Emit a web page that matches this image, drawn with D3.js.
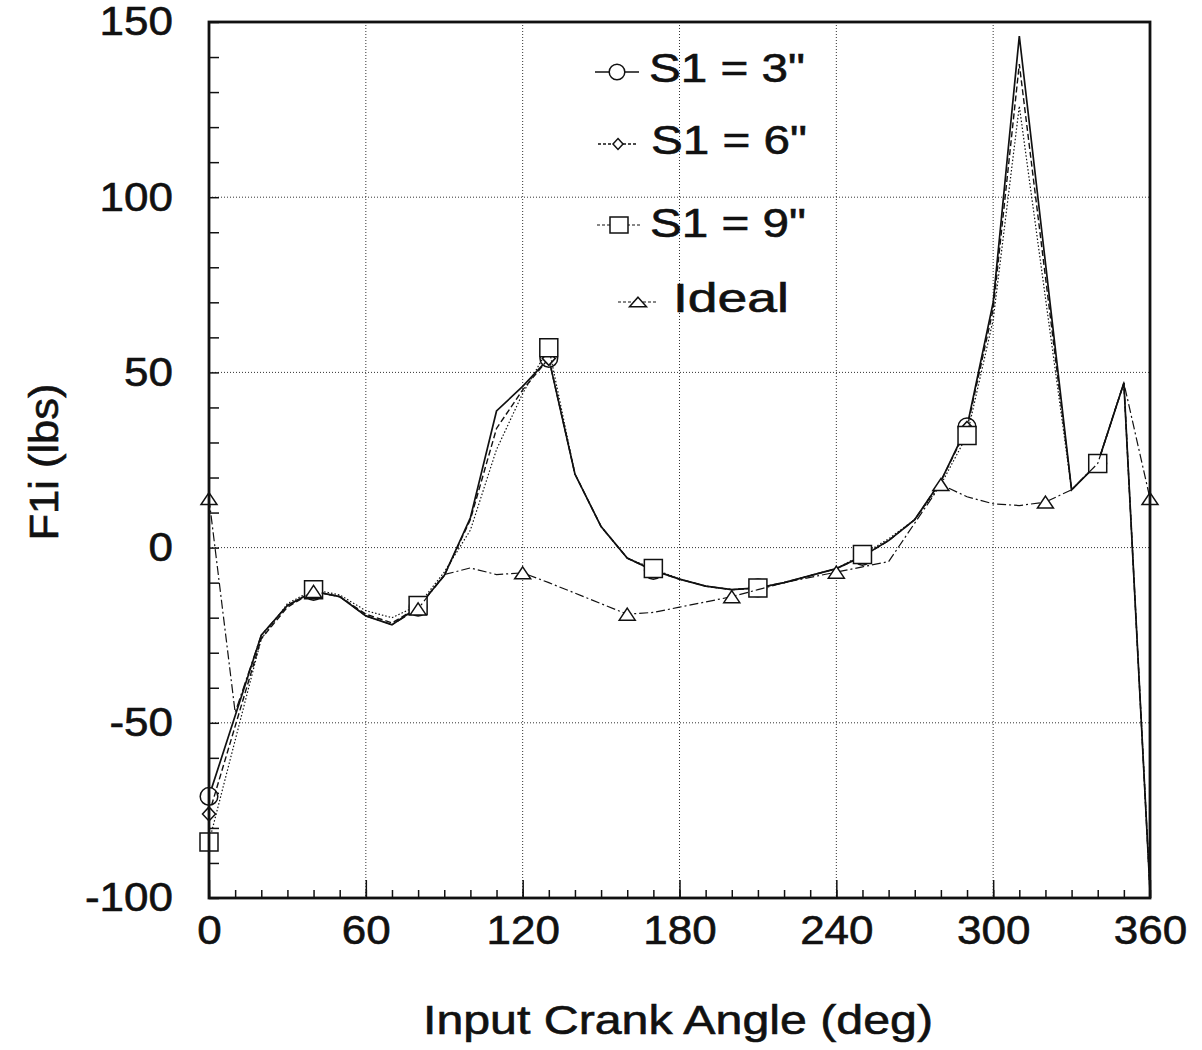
<!DOCTYPE html>
<html>
<head>
<meta charset="utf-8">
<script src="https://cdn.jsdelivr.net/npm/d3@7"></script>
<style>
  body { margin: 0; background: #fff; }
  text { font-family: "Liberation Sans", Arial, Helvetica, sans-serif; fill: #111; stroke: #111; stroke-width: 0.6px; }
</style>
</head>
<body>
<div id="chart"></div>
<script>
// Our canvas
const width = 1202, height = 1050
const plotLeft = 209, plotRight = 1150, plotTop = 22, plotBottom = 898

// Data
const sAngles = [0, 20, 30, 40, 50, 60, 70, 80, 90, 100, 110, 120, 130, 140, 150, 160, 170, 180, 190, 200,
  210, 220, 230, 240, 250, 260, 270, 280, 290, 300, 310, 330, 340, 350, 360]
const s3Values = [-71, -25, -16.5, -12.5, -14, -19.5, -22, -17, -8, 8.5, 39, 46, 54, 21, 6, -3, -6.5, -9, -11, -12,
  -11.5, -10, -8, -6, -2.5, 2, 8, 19, 34.5, 70, 146, 16.5, 24, 47, -98]
const s6Values = [-76, -26, -17, -12.5, -14, -19, -21.5, -17, -8, 8, 34, 45, 54, 21, 6, -3, -6.5, -9, -11, -12,
  -11.5, -10, -8, -6, -2.5, 2, 8, 19, 34, 68, 138, 16.5, 24, 47, -98]
const s9Values = [-84, -26, -16, -12, -13.5, -18, -20, -16.5, -7, 5, 28, 44, 57, 21, 6, -3, -6, -9, -11, -12,
  -11.5, -10, -8, -6, -2, 2.5, 8, 18, 32, 65, 126, 16.5, 24, 47, -98]
const idealAngles = [0, 10, 20, 30, 40, 50, 60, 70, 80, 90, 100, 110, 120, 130, 140, 150, 160, 170, 180, 190,
  200, 210, 220, 230, 240, 250, 260, 270, 280, 290, 300, 310, 320, 330, 340, 350, 360]
const idealValues = [14, -47, -25, -16.5, -12.5, -14, -19.5, -22, -17.5, -7.7, -5.8, -7.7, -7.2, -10, -13, -16, -19, -18.5, -17, -15.5,
  -14, -12, -10, -8.5, -7, -5.5, -4, 7, 18, 14.5, 12.5, 12, 13, 16.5, 24, 47, 14]
const sMarkerAngles = [0, 40, 80, 130, 170, 210, 250, 290, 340]
const idealMarkerAngles = [0, 40, 80, 120, 160, 200, 240, 280, 320, 360]
const seriesNames = ['S1 = 3"', 'S1 = 6"', 'S1 = 9"', 'Ideal']
const xTicks = [0, 60, 120, 180, 240, 300, 360]
const yTicks = [-100, -50, 0, 50, 100, 150]

// series table
const series = [
  { name: seriesNames[0], angles: sAngles, values: s3Values, marks: sMarkerAngles, shape: 'circle', dash: null, lw: 1.7 },
  { name: seriesNames[1], angles: sAngles, values: s6Values, marks: sMarkerAngles, shape: 'diamond', dash: '6,3', lw: 1.4 },
  { name: seriesNames[2], angles: sAngles, values: s9Values, marks: sMarkerAngles, shape: 'square', dash: '1.5,2', lw: 1.2 },
  { name: seriesNames[3], angles: idealAngles, values: idealValues, marks: idealMarkerAngles, shape: 'triangle', dash: '9,3,2,3', lw: 1.2 }
]

const x = d3.scaleLinear().domain([0, 360]).range([plotLeft, plotRight])
const y = d3.scaleLinear().domain([-100, 150]).range([plotBottom, plotTop])

let svg = d3.select('#chart')
  .append('svg')
  .attr('width', width)
  .attr('height', height)
  .style('background-color', '#fff')

// marker paths
let shapePath = (shape, w, h) => {
  if (shape === 'circle') return `M${-w},0a${w},${w} 0 1,0 ${2 * w},0a${w},${w} 0 1,0 ${-2 * w},0`
  if (shape === 'diamond') return `M0,${-h}L${w},0L0,${h}L${-w},0Z`
  if (shape === 'square') return `M${-w},${-h}H${w}V${h}H${-w}Z`
  return `M0,${-h}L${w},${h}L${-w},${h}Z`
}
const markSize = { circle: [8.8, 8.8], diamond: [6.5, 7], square: [9, 9], triangle: [8, 6] }
const legendSize = { circle: [7.8, 7.8], diamond: [5, 5.5], square: [9, 8], triangle: [8.5, 4.8] }

// stretch text horizontally a bit, the original lettering is wide
let stretch = (sel, k) => sel.each(function () {
  const l = this.getComputedTextLength()
  if (l > 0) d3.select(this).attr('textLength', l * k).attr('lengthAdjust', 'spacingAndGlyphs')
})

// gridlines
svg.append('g')
  .selectAll('line')
  .data(xTicks.filter(d => d > 0 && d < 360))
  .enter().append('line')
  .attr('x1', d => x(d)).attr('x2', d => x(d))
  .attr('y1', plotTop).attr('y2', plotBottom)
  .attr('stroke', '#333').attr('stroke-width', 1).attr('stroke-dasharray', '1,2')
svg.append('g')
  .selectAll('line')
  .data(yTicks.filter(d => d > -100 && d < 150))
  .enter().append('line')
  .attr('x1', plotLeft).attr('x2', plotRight)
  .attr('y1', d => y(d)).attr('y2', d => y(d))
  .attr('stroke', '#333').attr('stroke-width', 1).attr('stroke-dasharray', '1,2')

// axes
let yAxis = svg.append('g')
  .attr('transform', `translate(${plotLeft},0)`)
  .call(d3.axisLeft(y).tickValues(d3.range(-100, 151, 10))
    .tickFormat(d => yTicks.includes(d) ? d : '')
    .tickSizeInner(-10).tickSizeOuter(0).tickPadding(36))
yAxis.select('.domain').remove()
yAxis.selectAll('line').attr('stroke', '#111').attr('stroke-width', 1.5)
yAxis.selectAll('text').style('font-size', '40px').attr('fill', '#111')
stretch(yAxis.selectAll('text'), 1.1)

let xMinor = svg.append('g')
  .attr('transform', `translate(0,${plotBottom})`)
  .call(d3.axisBottom(x).tickValues(d3.range(0, 361, 10)).tickFormat('')
    .tickSizeInner(-8).tickSizeOuter(0))
xMinor.select('.domain').remove()
xMinor.selectAll('line').attr('stroke', '#111').attr('stroke-width', 1.5)

let xAxis = svg.append('g')
  .attr('transform', `translate(0,${plotBottom})`)
  .call(d3.axisBottom(x).tickValues(xTicks)
    .tickSizeInner(-18).tickSizeOuter(0).tickPadding(18))
xAxis.select('.domain').remove()
xAxis.selectAll('line').attr('stroke', '#111').attr('stroke-width', 1.5)
xAxis.selectAll('text').style('font-size', '40px').attr('fill', '#111')
stretch(xAxis.selectAll('text'), 1.1)

// series lines and markers
const line = d3.line().x(d => x(d[0])).y(d => y(d[1]))
series.forEach(s => {
  const pts = s.angles.map((a, i) => [a, s.values[i]])
  svg.append('path')
    .attr('d', line(pts))
    .attr('fill', 'none')
    .attr('stroke', '#111')
    .attr('stroke-width', s.lw)
    .attr('stroke-dasharray', s.dash)
  const [w, h] = markSize[s.shape]
  svg.append('g')
    .selectAll('path')
    .data(pts.filter(p => s.marks.includes(p[0])))
    .enter().append('path')
    .attr('transform', d => `translate(${x(d[0])},${y(d[1])})`)
    .attr('d', shapePath(s.shape, w, h))
    .attr('fill', '#fff')
    .attr('stroke', '#111')
    .attr('stroke-width', 1.5)
})

// frame
svg.append('rect')
  .attr('x', plotLeft).attr('y', plotTop)
  .attr('width', plotRight - plotLeft).attr('height', plotBottom - plotTop)
  .attr('fill', 'none').attr('stroke', '#111').attr('stroke-width', 2.8)

// legend
const legendRows = [
  { lx: 595, mx: 617, my: 72, tx: 649, ty: 82, tl: 156 },
  { lx: 598, mx: 618, my: 144, tx: 651, ty: 154, tl: 156 },
  { lx: 597, mx: 619, my: 225, tx: 650, ty: 237, tl: 156 },
  { lx: 618, mx: 638, my: 302, tx: 673, ty: 312, tl: 116 }
]
series.forEach((s, i) => {
  const r = legendRows[i]
  const g = svg.append('g')
  g.append('line')
    .attr('x1', r.lx).attr('x2', r.mx + (r.mx - r.lx))
    .attr('y1', r.my).attr('y2', r.my)
    .attr('stroke', '#111').attr('stroke-width', s.lw)
    .attr('stroke-dasharray', s.dash ? '3,2' : null)
  const [w, h] = legendSize[s.shape]
  g.append('path')
    .attr('transform', `translate(${r.mx},${r.my})`)
    .attr('d', shapePath(s.shape, w, h))
    .attr('fill', '#fff').attr('stroke', '#111').attr('stroke-width', 1.5)
  g.append('text')
    .attr('x', r.tx).attr('y', r.ty)
    .style('font-size', '40px')
    .attr('textLength', r.tl).attr('lengthAdjust', 'spacingAndGlyphs')
    .text(s.name)
})

// axis titles
svg.append('text')
  .attr('x', (423 + 933) / 2).attr('y', 1034)
  .attr('text-anchor', 'middle')
  .style('font-size', '40px')
  .attr('textLength', 510).attr('lengthAdjust', 'spacingAndGlyphs')
  .text('Input Crank Angle (deg)')

svg.append('text')
  .attr('transform', 'translate(58,462) rotate(-90)')
  .attr('text-anchor', 'middle')
  .style('font-size', '40px')
  .attr('textLength', 157).attr('lengthAdjust', 'spacingAndGlyphs')
  .text('F1i (lbs)')
</script>
</body>
</html>
